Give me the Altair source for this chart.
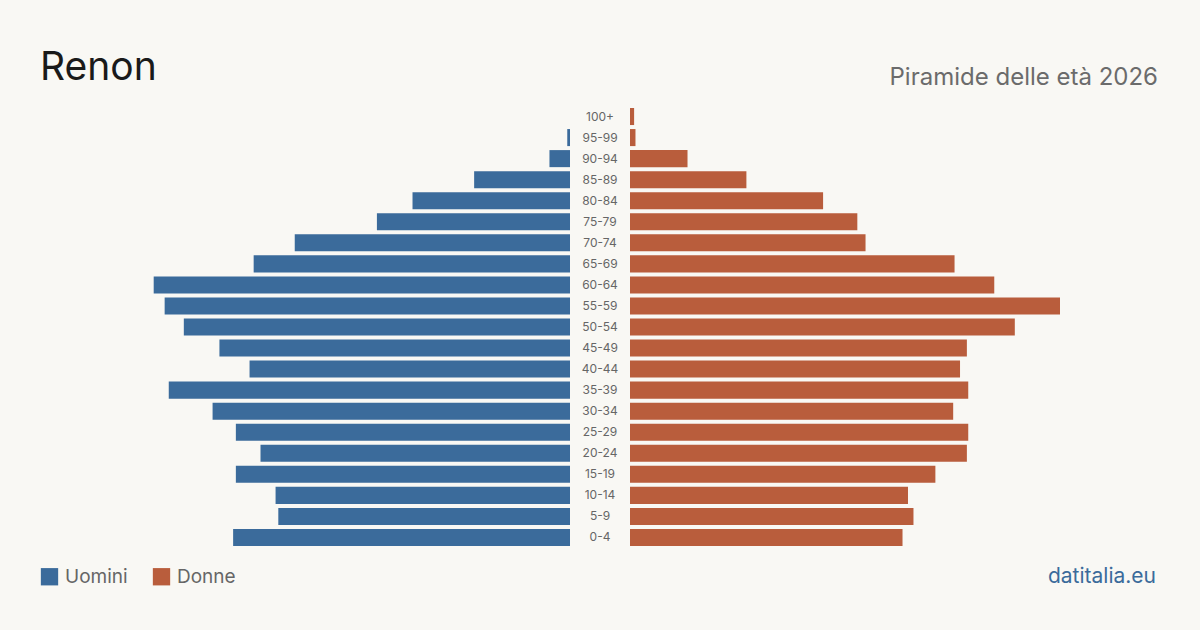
import altair as alt
import pandas as pd

# Age classes, from the oldest (top) to the youngest (bottom)
age_groups = ["100+", "95-99", "90-94", "85-89", "80-84", "75-79", "70-74",
              "65-69", "60-64", "55-59", "50-54", "45-49", "40-44", "35-39",
              "30-34", "25-29", "20-24", "15-19", "10-14", "5-9", "0-4"]
men = [0, 2, 15, 70, 115, 141, 201, 231, 304, 296, 282, 256, 234, 293,
       261, 244, 226, 244, 215, 213, 246]
women = [3, 4, 42, 85, 141, 166, 172, 237, 266, 314, 281, 246, 241, 247,
         236, 247, 246, 223, 203, 207, 199]

sexes = ["Uomini", "Donne"]
colors = ["#3b6b9b", "#b95d3c"]
max_value = 314

BG = "#f9f8f4"
FONT = "Inter"

df = pd.DataFrame(
    [{"eta": a, "sesso": "Uomini", "valore": v} for a, v in zip(age_groups, men)]
    + [{"eta": a, "sesso": "Donne", "valore": v} for a, v in zip(age_groups, women)]
)

y_enc = alt.Y(
    "eta:N",
    sort=age_groups,
    axis=None,
    scale=alt.Scale(range=[108, 546], paddingInner=0.19, paddingOuter=0),
)
color_enc = alt.Color(
    "sesso:N",
    scale=alt.Scale(domain=sexes, range=colors),
    legend=alt.Legend(
        title=None,
        orient="none",
        legendX=40,
        legendY=567,
        direction="horizontal",
        symbolType="square",
        symbolSize=300,
        symbolStrokeWidth=0,
        labelFont=FONT,
        labelFontSize=19,
        labelColor="#666666",
        labelOffset=6,
        columnPadding=24,
    ),
)

base = alt.Chart(df)

left = base.transform_filter(alt.datum.sesso == "Uomini").mark_bar().encode(
    x=alt.X("valore:Q", axis=None,
            scale=alt.Scale(domain=[0, max_value], range=[570, 140])),
    y=y_enc,
    color=color_enc,
)

right = base.transform_filter(alt.datum.sesso == "Donne").mark_bar().encode(
    x=alt.X("valore:Q", axis=None,
            scale=alt.Scale(domain=[0, max_value], range=[630, 1060])),
    y=y_enc,
    color=color_enc,
)

labels = alt.Chart(pd.DataFrame({"eta": age_groups})).mark_text(
    font=FONT, fontSize=12, color="#666666", align="center", baseline="middle"
).encode(
    x=alt.value(600),
    y=y_enc,
    text="eta:N",
)

one = pd.DataFrame({"t": [0]})

title = alt.Chart(one).mark_text(
    text="Renon", font=FONT, fontSize=39, color="#1a1a1a",
    align="left", baseline="alphabetic",
).encode(x=alt.value(40), y=alt.value(80))

subtitle = alt.Chart(one).mark_text(
    text="Piramide delle età 2026", font=FONT, fontSize=24, color="#6b6b6b",
    align="right", baseline="alphabetic",
).encode(x=alt.value(1158), y=alt.value(85))

source = alt.Chart(one).mark_text(
    text="datitalia.eu", font=FONT, fontSize=21, color="#3b6b9b",
    align="right", baseline="alphabetic",
).encode(x=alt.value(1156), y=alt.value(583))

chart = (
    alt.layer(left, right, labels, title, subtitle, source)
    .resolve_scale(x="independent")
    .properties(
        width=1200,
        height=630,
        padding=0,
        autosize=alt.AutoSizeParams(type="none"),
        background=BG,
    )
    .configure_view(stroke=None)
)

chart.save("out.html", embed_options={"renderer": "svg", "actions": False})
